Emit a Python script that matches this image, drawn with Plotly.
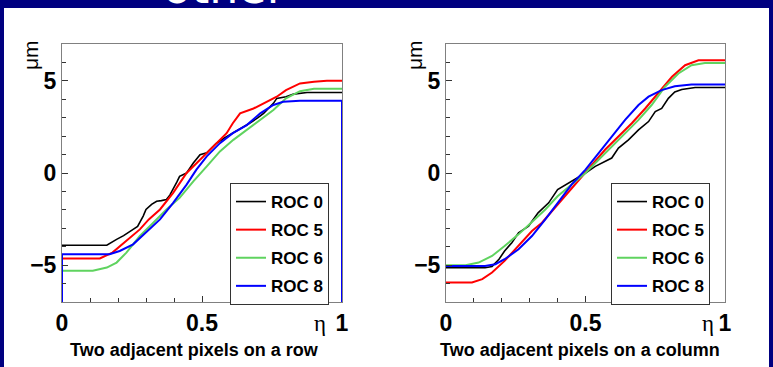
import plotly.graph_objects as go

# ---------------- data ----------------
names = ["ROC 0", "ROC 5", "ROC 6", "ROC 8"]
colors = ["#000000", "#ff0000", "#5fd35f", "#0000ff"]
widths = [1.6, 2, 2, 2]

# Left panel: two adjacent pixels on a row
row_x = [
    [0, 0.16, 0.195, 0.22, 0.254, 0.27, 0.29, 0.30, 0.32, 0.338, 0.355, 0.373, 0.385, 0.397, 0.41, 0.42,
     0.445, 0.469, 0.493, 0.517, 0.55, 0.58, 0.61, 0.64, 0.67, 0.70, 0.72, 0.755, 0.767, 0.80, 0.827, 0.875, 1.0],
    [0, 0.135, 0.18, 0.23, 0.278, 0.31, 0.35, 0.397, 0.445, 0.493, 0.54, 0.588, 0.61, 0.636, 0.684, 0.73,
     0.767, 0.80, 0.85, 0.90, 0.946, 1.0],
    [0, 0.11, 0.16, 0.195, 0.23, 0.278, 0.326, 0.373, 0.42, 0.469, 0.517, 0.564, 0.612, 0.66, 0.708, 0.755,
     0.80, 0.85, 0.90, 1.0],
    [0, 0, 0.17, 0.206, 0.254, 0.30, 0.35, 0.397, 0.445, 0.48, 0.517, 0.564, 0.61, 0.66, 0.708, 0.755, 0.79,
     0.85, 1.0, 1.0],
]
row_y = [
    [-3.92, -3.92, -3.6, -3.4, -3.06, -2.9, -2.34, -1.98, -1.7, -1.53, -1.5, -1.44, -1.2, -0.9, -0.5, -0.18,
     0, 0.54, 0.99, 1.1, 1.6, 1.9, 2.16, 2.4, 2.7, 3.0, 3.24, 3.78, 4.05, 4.14, 4.28, 4.37, 4.37],
    [-4.64, -4.64, -4.32, -3.69, -3.06, -2.52, -1.98, -1.08, 0, 0.72, 1.44, 2.16, 2.7, 3.24, 3.5, 3.87,
     4.14, 4.5, 4.86, 4.95, 5.0, 5.0],
    [-5.3, -5.3, -5.13, -4.86, -4.32, -3.42, -2.7, -1.98, -1.35, -0.45, 0.36, 1.17, 1.8, 2.34, 2.88, 3.42,
     4.05, 4.44, 4.57, 4.57],
    [-7, -4.41, -4.41, -4.23, -3.87, -3.24, -2.52, -1.62, -0.63, 0.18, 0.9, 1.62, 2.16, 2.6, 3.24, 3.69, 3.87,
     3.92, 3.92, -7],
]

# Right panel: two adjacent pixels on a column
col_x = [
    [0, 0.14, 0.165, 0.19, 0.21, 0.236, 0.26, 0.296, 0.33, 0.368, 0.40, 0.44, 0.475, 0.50, 0.535, 0.57,
     0.594, 0.618, 0.654, 0.69, 0.726, 0.75, 0.773, 0.797, 0.82, 0.845, 0.893, 1.0],
    [0, 0.093, 0.13, 0.165, 0.21, 0.26, 0.308, 0.344, 0.38, 0.427, 0.475, 0.523, 0.57, 0.618, 0.666, 0.714,
     0.76, 0.81, 0.857, 0.905, 1.0],
    [0, 0.07, 0.117, 0.165, 0.21, 0.26, 0.308, 0.356, 0.40, 0.45, 0.50, 0.547, 0.594, 0.642, 0.69, 0.737,
     0.785, 0.833, 0.88, 0.928, 1.0],
    [0, 0.14, 0.177, 0.21, 0.26, 0.308, 0.356, 0.40, 0.45, 0.50, 0.547, 0.594, 0.642, 0.69, 0.726, 0.773,
     0.82, 0.88, 1.0],
]
col_y = [
    [-5.14, -5.14, -5.07, -4.68, -4.23, -3.78, -3.24, -2.88, -2.16, -1.62, -0.9, -0.54, -0.27, 0, 0.36, 0.63,
     0.81, 1.35, 1.8, 2.34, 2.79, 3.33, 3.5, 4.05, 4.4, 4.53, 4.64, 4.64],
    [-5.94, -5.94, -5.76, -5.4, -4.77, -3.96, -3.15, -2.7, -2.07, -1.26, -0.36, 0.45, 1.26, 1.98, 2.7, 3.5,
     4.32, 5.22, 5.85, 6.12, 6.12],
    [-5.0, -5.0, -4.86, -4.5, -3.96, -3.33, -2.66, -1.98, -1.26, -0.63, 0, 0.72, 1.44, 2.16, 2.88, 3.69,
     4.68, 5.4, 5.85, 5.97, 5.97],
    [-5.04, -5.04, -4.95, -4.68, -4.14, -3.42, -2.52, -1.62, -0.63, 0.18, 1.08, 1.98, 2.88, 3.69, 4.14, 4.5,
     4.71, 4.8, 4.8],
]

x_range = [0, 1]
y_range = [-7, 7]
x_title_left = "Two adjacent pixels on a row"
x_title_right = "Two adjacent pixels on a column"
y_unit = "μm"
x_unit = "η"
slide_title = "other"

# ---------------- figure ----------------
W, H = 773, 367
ML, MR, MT, MB = 62, 48, 44, 65
PW, PH = W - ML - MR, H - MT - MB


def px(xp):
    return (xp - ML) / PW


def py(yp):
    return (H - MB - yp) / PH


fig = go.Figure()
for i in range(4):
    fig.add_trace(go.Scatter(x=row_x[i], y=row_y[i], mode="lines", name=names[i],
                             line=dict(color=colors[i], width=widths[i]),
                             xaxis="x", yaxis="y", legend="legend", legendgroup="a%d" % i))
for i in range(4):
    fig.add_trace(go.Scatter(x=col_x[i], y=col_y[i], mode="lines", name=names[i],
                             line=dict(color=colors[i], width=widths[i]),
                             xaxis="x2", yaxis="y2", legend="legend2", legendgroup="b%d" % i))

FONT = "Liberation Sans, Arial, sans-serif"
tickfont = dict(family=FONT, size=23, color="black", weight="bold")


def xax(domain, anchor):
    return dict(domain=domain, anchor=anchor, range=x_range, tickmode="linear", tick0=0, dtick=0.5,
                ticks="inside", ticklen=6, tickcolor="#333",
                minor=dict(dtick=0.1, tick0=0, ticks="inside", ticklen=4, tickcolor="#333"),
                showline=True, linecolor="#808080", linewidth=1, mirror=True,
                showgrid=False, zeroline=False, tickfont=tickfont)


def yax(anchor):
    return dict(domain=[0, 1], anchor=anchor, range=y_range, tickmode="linear", tick0=0, dtick=5,
                ticks="inside", ticklen=6, tickcolor="#333",
                minor=dict(dtick=1, tick0=0, ticks="inside", ticklen=4, tickcolor="#333"),
                showline=True, linecolor="#808080", linewidth=1, mirror=True,
                showgrid=False, zeroline=False, tickfont=tickfont)


legfont = dict(family=FONT, size=17, color="black", weight="bold")
legcommon = dict(yanchor="top", xanchor="left", y=py(183), bgcolor="white",
                 bordercolor="#333", borderwidth=1, font=legfont, tracegroupgap=3)

fig.update_layout(
    width=W, height=H,
    margin=dict(l=ML, r=MR, t=MT, b=MB),
    paper_bgcolor="#000080",
    plot_bgcolor="white",
    showlegend=True,
    xaxis=xax([0, px(342)], "y"),
    yaxis=yax("x"),
    xaxis2=xax([px(446), 1], "y2"),
    yaxis2=yax("x2"),
    legend=dict(x=px(230), **legcommon),
    legend2=dict(x=px(611), **legcommon),
    shapes=[dict(type="rect", xref="paper", yref="paper", x0=px(4), x1=px(769), y0=py(H + 5), y1=py(8),
                 fillcolor="white", line=dict(width=0), layer="below")],
)

ann = [
    dict(text=slide_title, x=px(224), y=py(-42), xanchor="center", yanchor="top",
         font=dict(family="DejaVu Sans", size=46, color="white")),
    dict(text=y_unit, x=px(31), y=py(55), textangle=-90, font=dict(family=FONT, size=21, color="black")),
    dict(text=y_unit, x=px(415), y=py(55), textangle=-90, font=dict(family=FONT, size=21, color="black")),
    dict(text=x_unit, x=px(320), y=py(323), font=dict(family="Liberation Serif, serif", size=23, color="black")),
    dict(text=x_unit, x=px(708), y=py(323), font=dict(family="Liberation Serif, serif", size=23, color="black")),
    dict(text=x_title_left, x=px(194), y=py(350), font=dict(family=FONT, size=18, color="black", weight="bold")),
    dict(text=x_title_right, x=px(580), y=py(350), font=dict(family=FONT, size=18, color="black", weight="bold")),
]
for a in ann:
    a.update(xref="paper", yref="paper", showarrow=False)
    a.setdefault("xanchor", "center")
    a.setdefault("yanchor", "middle")
fig.update_layout(annotations=ann)

fig.write_html("out.html")
